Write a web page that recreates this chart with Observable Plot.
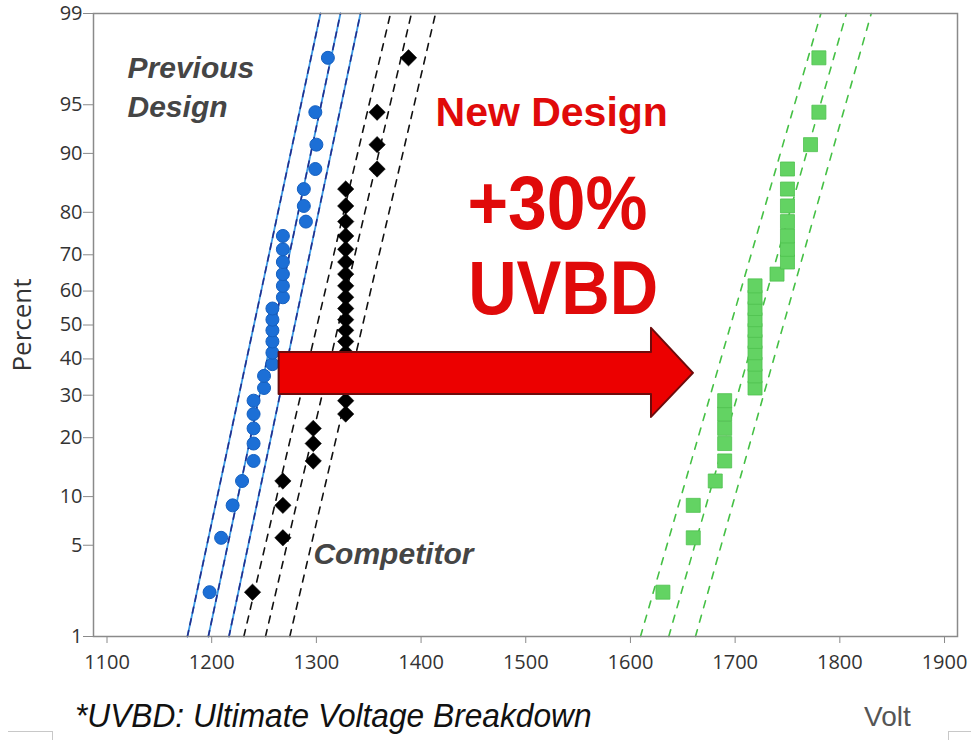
<!DOCTYPE html>
<html><head><meta charset="utf-8">
<script src="https://cdn.jsdelivr.net/npm/d3@7"></script>
<script src="https://cdn.jsdelivr.net/npm/@observablehq/plot@0.6"></script>
<style>
body{margin:0;background:#fff;}
#wrap{position:relative;width:971px;height:740px;overflow:hidden;background:#fff;}
#caption{position:absolute;left:75px;top:697px;font:italic 33px "Liberation Sans",Arial,sans-serif;color:#111;white-space:nowrap;transform:scaleX(0.96);transform-origin:left top;}
#volt{position:absolute;left:864px;top:701px;font:28px "Liberation Sans",Arial,sans-serif;color:#555;}
.br{position:absolute;top:731px;height:12px;border-color:#c8c8c8;border-style:solid;border-width:0;}
.br.l{left:8px;width:44px;border-top-width:1px;border-right-width:1px;}
.br.r{left:948px;width:30px;border-top-width:1px;border-left-width:1px;}
</style></head><body>
<div id="wrap"><div id="chart"></div>
<div id="caption">*UVBD: Ultimate Voltage Breakdown</div>
<div id="volt">Volt</div>
<div class="br l"></div><div class="br r"></div>
</div>
<script>
// ---- data ----
const percents = [2.3, 5.6, 8.9, 12.2, 15.5, 18.8, 22.0, 25.3, 28.6, 31.9, 35.2, 38.5, 41.8, 45.1, 48.4,
                  51.6, 54.9, 58.2, 61.5, 64.8, 68.1, 71.4, 74.7, 78.0, 81.3, 84.5, 87.8, 91.1, 94.4, 97.7];
const previousVolts = [1198, 1209, 1220, 1229, 1240, 1240, 1240, 1240, 1240, 1250, 1250, 1258, 1258, 1258, 1258,
                       1258, 1258, 1268, 1268, 1268, 1268, 1268, 1268, 1290, 1288, 1288, 1299, 1300, 1299, 1311];
const competitorVolts = [1239, 1268, 1268, 1268, 1297, 1297, 1297, 1328, 1328, 1328, 1328, 1328, 1328, 1328, 1328,
                         1328, 1328, 1328, 1328, 1328, 1328, 1328, 1328, 1328, 1328, 1328, 1358, 1358, 1358, 1388];
const newDesignVolts = [1631, 1660, 1660, 1681, 1690, 1690, 1690, 1690, 1690, 1719, 1719, 1719, 1719, 1719, 1719,
                        1719, 1719, 1719, 1719, 1740, 1750, 1750, 1750, 1750, 1750, 1750, 1750, 1772, 1780, 1780];
// fitted line and confidence bounds: volts at the 1% and 99% ends
const fitEndPercents = [1, 99];
const previousFit = [[1176.8, 1303.9], [1196.8, 1323.0], [1216.5, 1342.1]];
const competitorFit = [[1230.7, 1370.8], [1251.4, 1390.8], [1274.6, 1413.8]];
const newDesignFit = [[1609.6, 1781.9], [1636.6, 1806.2], [1662.1, 1830.0]];
const yTicks = [1, 5, 10, 20, 30, 40, 50, 60, 70, 80, 90, 95, 99];
const xTicks = [1100, 1200, 1300, 1400, 1500, 1600, 1700, 1800, 1900];
// annotation arrow (volts / percents)
const arrowVolts = [1264.4, 1620.1, 1620.1, 1660.2];
const arrowLow = [30.2, 30.2, 24.5, 35.9];
const arrowHigh = [41.9, 41.9, 49.0, 35.9];
// annotation labels
const noteTexts = ["Previous", "Design", "Competitor", "New Design", "+30%", "UVBD"];
const noteVolts = [1119.6, 1119.6, 1297.2, 1413.8, 1444.3, 1445.0];
const notePercents = [97.25, 94.78, 4.33, 94.38, 81.5, 60.3];

// ---- normal probability transform ----
function probit(p){
  const a=[-3.969683028665376e+01,2.209460984245205e+02,-2.759285104469687e+02,1.383577518672690e+02,-3.066479806614716e+01,2.506628277459239e+00];
  const b=[-5.447609879822406e+01,1.615858368580409e+02,-1.556989798598866e+02,6.680131188771972e+01,-1.328068155288572e+01];
  const c=[-7.784894002430293e-03,-3.223964580411365e-01,-2.400758277161838e+00,-2.549732539343734e+00,4.374664141464968e+00,2.938163982698783e+00];
  const d=[7.784695709041462e-03,3.224671290700398e-01,2.445134137142996e+00,3.754408661907416e+00];
  const pl=0.02425, ph=1-pl; let q,r;
  if(p<pl){q=Math.sqrt(-2*Math.log(p));return (((((c[0]*q+c[1])*q+c[2])*q+c[3])*q+c[4])*q+c[5])/((((d[0]*q+d[1])*q+d[2])*q+d[3])*q+1);}
  if(p>ph){q=Math.sqrt(-2*Math.log(1-p));return -(((((c[0]*q+c[1])*q+c[2])*q+c[3])*q+c[4])*q+c[5])/((((d[0]*q+d[1])*q+d[2])*q+d[3])*q+1);}
  q=p-0.5;r=q*q;return (((((a[0]*r+a[1])*r+a[2])*r+a[3])*r+a[4])*r+a[5])*q/(((((b[0]*r+b[1])*r+b[2])*r+b[3])*r+b[4])*r+1);
}
const zp = pct => probit(pct/100);

const pointsOf = volts => volts.map((v,i)=>({v, p: percents[i]}));
const linesOf = fit => fit.flatMap((ends,k)=>ends.map((v,j)=>({k, v, p: fitEndPercents[j]})));
const prevPts = pointsOf(previousVolts), compPts = pointsOf(competitorVolts), newPts = pointsOf(newDesignVolts);
const prevLines = linesOf(previousFit), compLines = linesOf(competitorFit), newLines = linesOf(newDesignFit);
const arrow = arrowVolts.map((v,i)=>({v, lo: arrowLow[i], hi: arrowHigh[i]}));
const notes = noteTexts.map((t,i)=>({t, v: noteVolts[i], p: notePercents[i]}));
const tickLabel = new Map(yTicks.map(t=>[zp(t), String(t)]));

const sans = "Liberation Sans, Arial, sans-serif";
const tickFont = "Open Sans, sans-serif";
const noteStyle = {
  "Previous": {fill:"#454545", fontSize:30, fontWeight:"bold", fontStyle:"italic"},
  "Design": {fill:"#454545", fontSize:30, fontWeight:"bold", fontStyle:"italic"},
  "Competitor": {fill:"#454545", fontSize:30, fontWeight:"bold", fontStyle:"italic"},
  "New Design": {fill:"#e00a0a", fontSize:41, fontWeight:"bold", fontStyle:"normal"},
  "+30%": {fill:"#e00a0a", fontSize:76, fontWeight:"bold", fontStyle:"normal"},
  "UVBD": {fill:"#e00a0a", fontSize:76, fontWeight:"bold", fontStyle:"normal"}
};
const noteLength = {"+30%": 180, "UVBD": 190};

const chart = Plot.plot({
  width: 971, height: 690,
  marginLeft: 93, marginRight: 14, marginTop: 13, marginBottom: 54,
  style: {background: "#fff", color: "#333", overflow: "visible"},
  x: {domain: [1087.1, 1912.4]},
  y: {domain: [zp(1), zp(99)]},
  marks: [
    // fit lines and bounds
    Plot.line(prevLines, {x: "v", y: d=>zp(d.p), z: "k", stroke: "#3b9be6", strokeWidth: 1.8}),
    Plot.line(prevLines, {x: "v", y: d=>zp(d.p), z: "k", stroke: "#242d8c", strokeWidth: 1.6, strokeDasharray: "6,6"}),
    Plot.line(compLines, {x: "v", y: d=>zp(d.p), z: "k", stroke: "#111", strokeWidth: 1.6, strokeDasharray: "7,7"}),
    Plot.line(newLines, {x: "v", y: d=>zp(d.p), z: "k", stroke: "#45c045", strokeWidth: 1.6, strokeDasharray: "7,8"}),
    // points
    Plot.dot(prevPts, {x: "v", y: d=>zp(d.p), symbol: "circle", r: 6.5, fill: "#1c6fd6", stroke: "#1560c0", strokeWidth: 1}),
    Plot.dot(compPts, {x: "v", y: d=>zp(d.p), symbol: "diamond2", r: 7.4, fill: "#000", stroke: "#000", strokeWidth: 0.5}),
    Plot.dot(newPts, {x: "v", y: d=>zp(d.p), symbol: "square", r: 7.9, fill: "#63d363", stroke: "#4fc24f", strokeWidth: 0.8}),
    // arrow
    Plot.areaY(arrow, {x: "v", y1: d=>zp(d.lo), y2: d=>zp(d.hi), curve: "linear", fill: "#ec0000", stroke: "#6e0b0b", strokeWidth: 2}),
    // labels
    ...notes.map(n => Plot.text([n], {x: "v", y: d=>zp(d.p), text: "t", textAnchor: "start", lineAnchor: "middle",
      fontFamily: sans, ...noteStyle[n.t]})),
    // axes & frame
    Plot.axisX(xTicks, {tickSize: 7, tickPadding: 11, fontSize: 20, fontFamily: tickFont, stroke: "#8a8a8a", fill: "#333",
      tickFormat: d => String(d), label: null}),
    Plot.axisY(yTicks.map(zp), {tickSize: 10, tickPadding: 1, fontSize: 20, fontFamily: tickFont, stroke: "#8a8a8a", fill: "#333",
      tickFormat: d => tickLabel.get(d), label: null}),
    Plot.text(["Percent"], {frameAnchor: "left", textAnchor: "middle", rotate: -90, dx: -71, fontSize: 26, fontFamily: tickFont, fill: "#333"}),
    Plot.frame({stroke: "#8a8a8a", strokeWidth: 1.5})
  ]
});
// horizontally condensed big labels
chart.querySelectorAll("text").forEach(t => {
  const k = t.textContent;
  if (noteLength[k]) { t.setAttribute("textLength", noteLength[k]); t.setAttribute("lengthAdjust", "spacingAndGlyphs"); }
});
document.getElementById("chart").appendChild(chart);
</script>
</body></html>
